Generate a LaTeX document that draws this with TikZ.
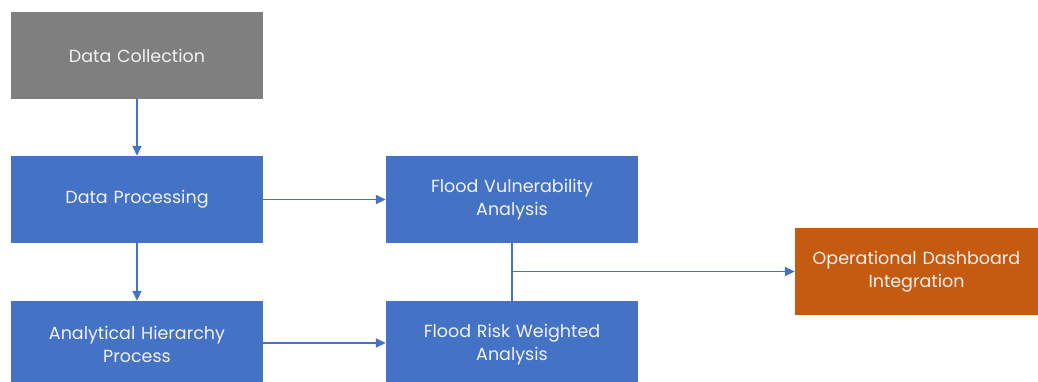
\documentclass[tikz,border=0pt]{standalone}
\usepackage{fontspec}
\setmainfont{Poppins}
\usetikzlibrary{arrows.meta,calc}
\definecolor{cblue}{HTML}{4472C4}
\definecolor{cgray}{HTML}{7F7F7F}
\definecolor{corange}{HTML}{C55A11}
\definecolor{ctext}{HTML}{F2F2F2}
\begin{document}
\begin{tikzpicture}[x=1pt,y=-1pt,
  box/.style={minimum width=252pt,minimum height=87pt,inner sep=0pt,align=center,
    text=ctext,font=\fontsize{17.5}{23}\selectfont,text width=248pt},
  bluebox/.style={box,fill=cblue},
  link/.style={draw=cblue,line width=1.6pt},
  arr/.style={link,-{Triangle[length=10pt,width=9pt]}}]
\useasboundingbox (0,0) rectangle (1038,381);
\clip (0,0) rectangle (1038,381);
\node[box,fill=cgray] (dc) at (137,55.5) {Data Collection};
\node[bluebox] (dp) at (137,199.5) {Data Processing};
\node[bluebox] (ahp) at (137,344.5) {Analytical Hierarchy\\Process};
\node[bluebox] (fv) at (512,199.5) {Flood Vulnerability\\Analysis};
\node[bluebox] (fr) at (512,344.5) {Flood Risk Weighted\\Analysis};
\node[box,fill=corange,minimum width=243pt,text width=240pt] (od) at (916.5,271.5) {Operational Dashboard\\Integration};
\coordinate (j) at (fv.south |- od.west);
\draw[arr] (dc) -- (dp);
\draw[arr] (dp) -- (ahp);
\draw[arr] (dp) -- (fv);
\draw[arr] (ahp.east |- 0,343) -- (fr.west |- 0,343);
\draw[link] (fv) -- (fr);
\draw[arr] (j) -- (od);
\end{tikzpicture}
\end{document}
